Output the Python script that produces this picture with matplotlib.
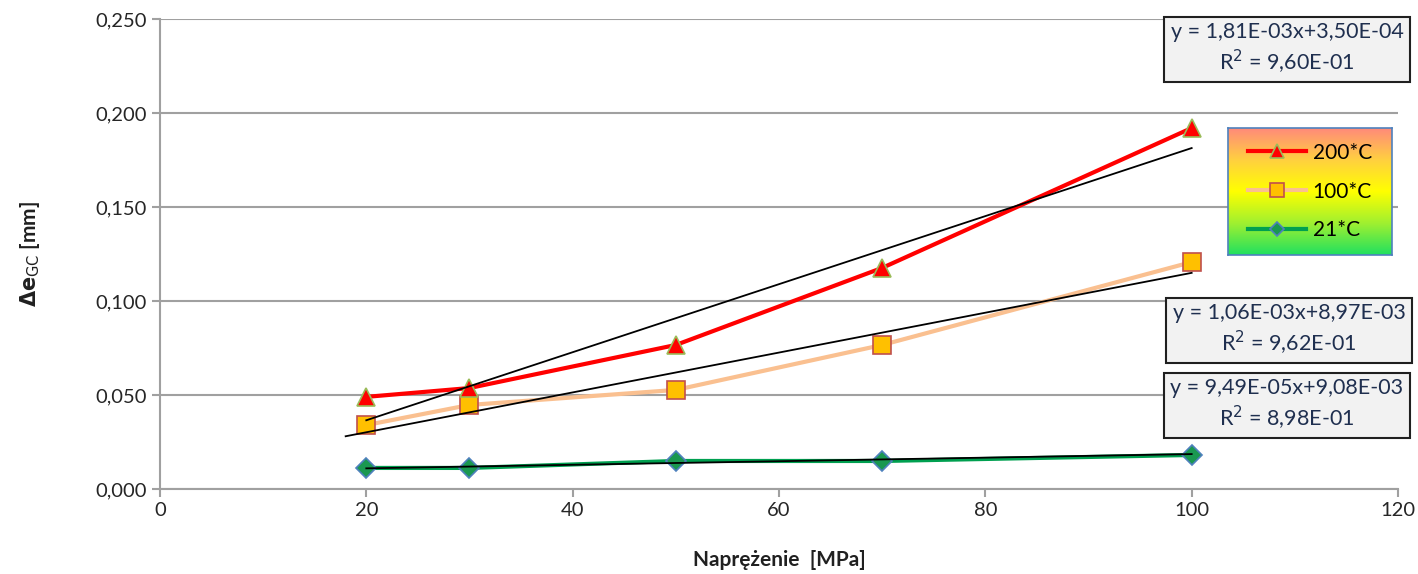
import numpy as np
import matplotlib
matplotlib.use("Agg")
import matplotlib.pyplot as plt
from matplotlib.ticker import FuncFormatter
from matplotlib.colors import LinearSegmentedColormap

plt.rcParams['font.family'] = ['Lato', 'DejaVu Sans']

# data
stress = [20, 30, 50, 70, 100]
de_200 = [0.049, 0.0537, 0.0766, 0.1176, 0.192]
de_100 = [0.034, 0.0447, 0.0527, 0.0766, 0.1207]
de_21 = [0.0112, 0.0112, 0.0149, 0.0149, 0.0181]
labels = ['200*C', '100*C', '21*C']

# trendline coefficients (slope, intercept, R2) as printed on chart
trend_200 = (1.81e-3, 3.50e-4, 9.60e-1)
trend_100 = (1.06e-3, 8.97e-3, 9.62e-1)
trend_21 = (9.49e-5, 9.08e-3, 8.98e-1)
trend_x = [(20, 100), (18, 100), (20, 100)]
trend_text = ["y = 1,81E-03x+3,50E-04\nR$^2$ = 9,60E-01",
              "y = 1,06E-03x+8,97E-03\nR$^2$ = 9,62E-01",
              "y = 9,49E-05x+9,08E-03\nR$^2$ = 8,98E-01"]

fig = plt.figure(figsize=(14.18, 5.74), dpi=100)
ax = fig.add_axes([0.1128, 0.1481, 0.8731, 0.8188])

grid_col = '#a0a0a0'
ax.set_xlim(0, 120)
ax.set_ylim(0, 0.25)
ax.set_xticks(range(0, 121, 20))
ax.set_yticks(np.arange(0, 0.2501, 0.05))
ax.yaxis.set_major_formatter(FuncFormatter(lambda v, p: ("%.3f" % v).replace('.', ',')))
ax.grid(axis='y', color=grid_col, linewidth=1.5, zorder=0)
for s in ['top', 'right']:
    ax.spines[s].set_visible(False)
for s in ['left', 'bottom']:
    ax.spines[s].set_color(grid_col)
    ax.spines[s].set_linewidth(1.5)
ax.tick_params(colors=grid_col, labelcolor='#262626', labelsize=14.5, length=6, width=1.5)

l200, = ax.plot(stress, de_200, color='#ff0000', linewidth=3, marker='^', markersize=13,
                markerfacecolor='#ff0000', markeredgecolor='#9bbb59', markeredgewidth=1.2, zorder=4)
l100, = ax.plot(stress, de_100, color='#fac090', linewidth=3, marker='s', markersize=13,
                markerfacecolor='#ffc000', markeredgecolor='#c0504d', markeredgewidth=1.2, zorder=3)
l21, = ax.plot(stress, de_21, color='#00a050', linewidth=3, marker='D', markersize=10,
               markerfacecolor='#1a9850', markeredgecolor='#4f81bd', markeredgewidth=1.2, zorder=3)

for (a, b, r2), (x0, x1) in zip([trend_200, trend_100, trend_21], trend_x):
    xs = np.array([x0, x1])
    ax.plot(xs, a * xs + b, color='black', linewidth=1.3, zorder=5)

# trendline label boxes (figure pixel coords)
box_pos = [(1287, 49), (1289, 330), (1287, 405)]
for txt, (px, py) in zip(trend_text, box_pos):
    fig.text(px / 1418, 1 - py / 574, txt, ha='center', va='center', fontsize=15.5,
             color='#1f2f4f', linespacing=1.25,
             bbox=dict(boxstyle='square,pad=0.3', facecolor='#f2f2f2', edgecolor='#202020', linewidth=1.5))

# legend with gradient background
lx0, ly0, lx1, ly1 = 1228, 128, 1392, 255
lax = fig.add_axes([lx0 / 1418, 1 - ly1 / 574, (lx1 - lx0) / 1418, (ly1 - ly0) / 574])
grad = np.linspace(0, 1, 256)
cmap = LinearSegmentedColormap.from_list('g', ['#ff8a7a', '#ffd040', '#ffff00', '#a0f030', '#20e060'])
lax.imshow(grad[:, None], aspect='auto', cmap=cmap, extent=[0, 1, 0, 1])
lax.set_xticks([])
lax.set_yticks([])
for s in lax.spines.values():
    s.set_color('#4f81bd')
    s.set_linewidth(1.2)
leg = lax.legend([l200, l100, l21], labels, loc='center', frameon=False, fontsize=15,
                 handlelength=2.8, labelspacing=0.9, handletextpad=0.3, markerscale=0.75)

ax.set_xlabel('Naprężenie  [MPa]', fontsize=15, fontweight='bold', color='#202020', labelpad=22)
ax.set_ylabel(r'$\mathbf{\Delta e}_{\mathrm{GC}}$ [mm]', fontsize=15, fontweight='bold', color='#202020', labelpad=38)

fig.savefig('out.png', dpi=100)
